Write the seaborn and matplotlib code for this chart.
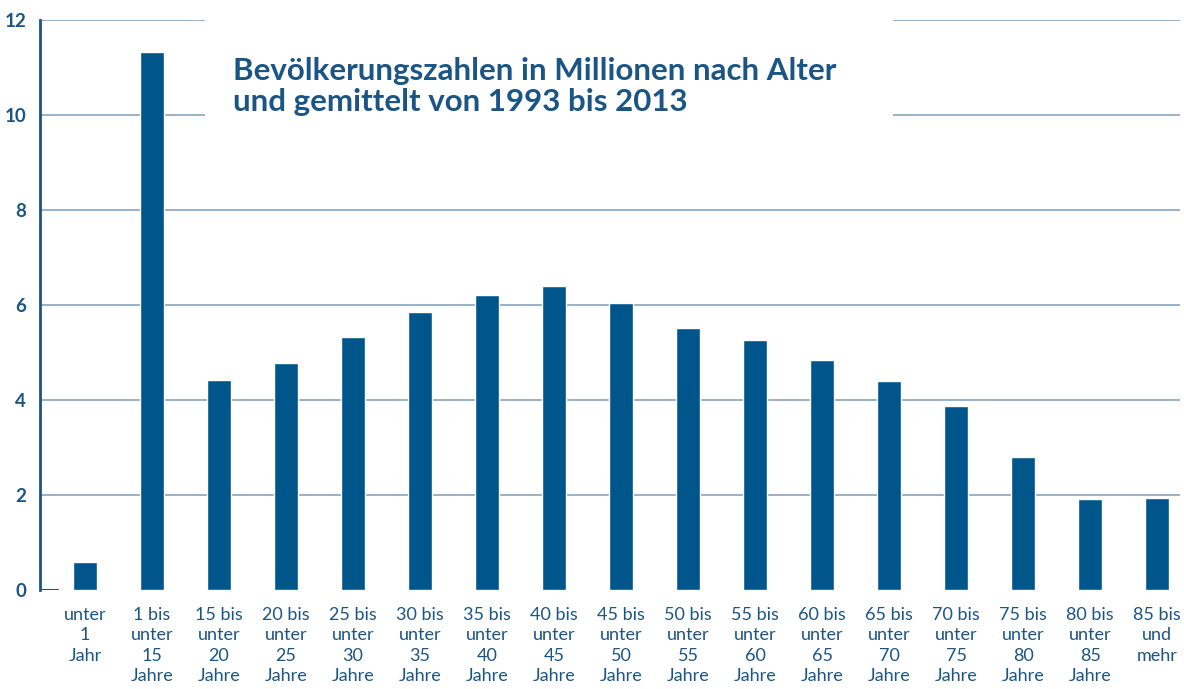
import matplotlib
matplotlib.use("Agg")
import matplotlib.pyplot as plt
import seaborn as sns
import pandas as pd

categories = ["unter\n1\nJahr", "1 bis\nunter\n15\nJahre", "15 bis\nunter\n20\nJahre",
              "20 bis\nunter\n25\nJahre", "25 bis\nunter\n30\nJahre", "30 bis\nunter\n35\nJahre",
              "35 bis\nunter\n40\nJahre", "40 bis\nunter\n45\nJahre", "45 bis\nunter\n50\nJahre",
              "50 bis\nunter\n55\nJahre", "55 bis\nunter\n60\nJahre", "60 bis\nunter\n65\nJahre",
              "65 bis\nunter\n70\nJahre", "70 bis\nunter\n75\nJahre", "75 bis\nunter\n80\nJahre",
              "80 bis\nunter\n85\nJahre", "85 bis\nund\nmehr"]
values = [0.59, 11.33, 4.42, 4.78, 5.33, 5.85, 6.21, 6.40, 6.04, 5.52, 5.26, 4.84,
          4.40, 3.87, 2.80, 1.92, 1.93]
yticks = [0, 2, 4, 6, 8, 10, 12]
title = "Bevölkerungszahlen in Millionen nach Alter\nund gemittelt von 1993 bis 2013"

BAR = "#00568a"
TXT = "#1b5585"
GRID = "#7d9db8"

sns.set_theme(style="white")
plt.rcParams['font.family'] = ['Lato', 'DejaVu Sans']

df = pd.DataFrame({"cat": categories, "val": values})
fig = plt.figure(figsize=(11.84, 6.89), dpi=100)
ax = fig.add_axes([40/1184, 1-590/689, 1140/1184, 570/689])
sns.barplot(data=df, x="cat", y="val", color=BAR, width=0.36, saturation=1, ax=ax, zorder=3)

ax.set_ylim(0, 12)
ax.set_xlim(-0.67, 16.34)
ax.set_yticks(yticks)
ax.set_yticklabels([str(t) for t in yticks], fontsize=13.5, fontweight='bold', color=TXT)
ax.tick_params(axis='y', length=0, pad=10)
ax.tick_params(axis='x', length=0, pad=12)
for lab in ax.get_xticklabels():
    lab.set_fontsize(13)
    lab.set_color(TXT)
    lab.set_linespacing(1.34)
    lab.set_va('top')
ax.set_xlabel("")
ax.set_ylabel("")

for t in yticks[1:]:
    ax.axhline(t, color=GRID, lw=1.1, zorder=1)
ax.axhline(0, xmin=0, xmax=18/1140, color=TXT, lw=1.5, zorder=1)

for s in ["top", "right", "bottom"]:
    ax.spines[s].set_visible(False)
ax.spines["left"].set_color(TXT)
ax.spines["left"].set_linewidth(2)

# white box behind title hides gridlines
fig.patches.append(plt.Rectangle((205/1184, 1-122/689), (893-205)/1184, (122-12)/689,
                                 transform=fig.transFigure, facecolor='white',
                                 edgecolor='none', zorder=5))
fig.text(233/1184, 1-57/689, title, fontsize=22.5, fontweight='bold', color=TXT,
         va='top', ha='left', linespacing=1.12, zorder=6)

fig.savefig("out.png", dpi=100)
